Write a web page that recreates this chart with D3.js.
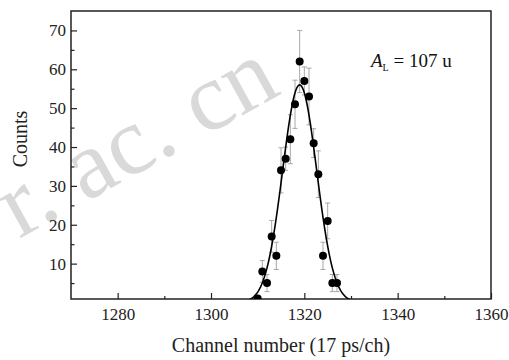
<!DOCTYPE html>
<html>
<head>
<meta charset="utf-8">
<script src="https://cdn.jsdelivr.net/npm/d3@7"></script>
<style>
  body { margin: 0; background: #fff; }
  text { font-family: "Liberation Serif", "Times New Roman", serif; }
</style>
</head>
<body>
<div class="chart"></div>
<script>
// data
const channels = [1310, 1311, 1312, 1313, 1314, 1315, 1316, 1317, 1318, 1319, 1320, 1321, 1322, 1323, 1324, 1325, 1326, 1327];
const counts   = [1, 8, 5, 17, 12, 34, 37, 42, 51, 62, 57, 53, 41, 33, 12, 21, 5, 5];
const errors   = [0, 2.8, 2.2, 4.1, 3.5, 5.8, 3, 6.3, 6.2, 8, 3.6, 7.3, 3.7, 6, 3.5, 4.6, 2.2, 2.2];

// gaussian fit parameters
const fitAmp = 56;
const fitCenter = 1319;
const fitSigma = 3.65;

const xMajor = [1280, 1300, 1320, 1340, 1360];
const xMinor = [1290, 1310, 1330, 1350];
const yMajor = [10, 20, 30, 40, 50, 60, 70];
const yMinor = [5, 15, 25, 35, 45, 55, 65];

const data = channels.map((c, i) => ({ch: c, n: counts[i], err: errors[i]}));

// margins, width and height
const margin = {top: 11, right: 18, bottom: 61, left: 71};
const width = 509 - margin.left - margin.right;
const height = 360 - margin.top - margin.bottom;

const root = d3.select(".chart")
    .append("svg")
    .attr("width", 509)
    .attr("height", 360);

// watermark behind the plot
root.append("text")
    .text("r. ac. cn")
    .attr("transform", "translate(151,166) rotate(-29)")
    .attr("text-anchor", "middle")
    .attr("font-size", 97)
    .attr("fill", "#d9d9d9");

const svg = root.append("g")
    .attr("transform", `translate(${margin.left},${margin.top})`);

// scales
const xScale = d3.scaleLinear().domain([1270, 1360]).range([0, width]);
const yScale = d3.scaleLinear().domain([0.9, 75]).range([height, 0]);

svg.append("clipPath")
    .attr("id", "clip")
    .append("rect")
    .attr("width", width)
    .attr("height", height);

// axes, ticks inside
const xAxis = d3.axisBottom(xScale).tickValues(xMajor).tickSize(-6).tickPadding(9).tickFormat(d3.format("d"));
const xAxisMinor = d3.axisBottom(xScale).tickValues(xMinor).tickSize(-3).tickFormat("");
const yAxis = d3.axisLeft(yScale).tickValues(yMajor).tickSize(-6).tickPadding(5);
const yAxisMinor = d3.axisLeft(yScale).tickValues(yMinor).tickSize(-3.5).tickFormat("");

function styleAxis(g) {
  g.select(".domain").remove();
  g.selectAll(".tick line").attr("stroke", "#222").attr("stroke-width", 1.2);
  g.selectAll(".tick text")
    .attr("fill", "#222")
    .attr("font-size", 17)
    .attr("font-family", "Liberation Serif, serif");
}

svg.append("g").attr("transform", `translate(0,${height})`).call(xAxis).call(styleAxis);
svg.append("g").attr("transform", `translate(0,${height})`).call(xAxisMinor).call(styleAxis);
svg.append("g").call(yAxis).call(styleAxis);
svg.append("g").call(yAxisMinor).call(styleAxis);

// frame
svg.append("rect")
    .attr("width", width)
    .attr("height", height)
    .attr("fill", "none")
    .attr("stroke", "#222")
    .attr("stroke-width", 1.5);

const plot = svg.append("g").attr("clip-path", "url(#clip)");

// error bars
const eb = plot.append("g")
    .attr("stroke", "#a8a8a8")
    .attr("stroke-width", 1)
    .selectAll("g")
    .data(data.filter(d => d.err > 0))
    .enter()
    .append("g");

eb.append("line")
    .attr("x1", d => xScale(d.ch))
    .attr("x2", d => xScale(d.ch))
    .attr("y1", d => yScale(d.n - d.err))
    .attr("y2", d => yScale(d.n + d.err));

eb.append("line")
    .attr("x1", d => xScale(d.ch) - 2.5)
    .attr("x2", d => xScale(d.ch) + 2.5)
    .attr("y1", d => yScale(d.n + d.err))
    .attr("y2", d => yScale(d.n + d.err));

eb.append("line")
    .attr("x1", d => xScale(d.ch) - 2.5)
    .attr("x2", d => xScale(d.ch) + 2.5)
    .attr("y1", d => yScale(d.n - d.err))
    .attr("y2", d => yScale(d.n - d.err));

// gaussian fit line
const fitX = d3.range(1300, 1340.01, 0.2);
const line = d3.line()
    .x(d => xScale(d))
    .y(d => yScale(fitAmp * Math.exp(-Math.pow(d - fitCenter, 2) / (2 * fitSigma * fitSigma))));

plot.append("path")
    .datum(fitX)
    .attr("fill", "none")
    .attr("stroke", "#000")
    .attr("stroke-width", 1.6)
    .attr("d", line);

// data points
plot.selectAll("circle")
    .data(data)
    .enter()
    .append("circle")
    .attr("cx", d => xScale(d.ch))
    .attr("cy", d => yScale(d.n))
    .attr("r", 4)
    .attr("fill", "#000");

// annotation
const ann = svg.append("text")
    .attr("x", 300)
    .attr("y", 56)
    .attr("font-size", 19)
    .attr("fill", "#111");
ann.append("tspan").text("A").attr("font-style", "italic");
ann.append("tspan").text("L").attr("font-size", 10).attr("dy", 4);
ann.append("tspan").text(" = 107 u").attr("dy", -4);

// axis titles
root.append("text")
    .text("Channel number (17 ps/ch)")
    .attr("x", margin.left + width / 2)
    .attr("y", 352)
    .attr("text-anchor", "middle")
    .attr("font-size", 20)
    .attr("fill", "#222");

root.append("text")
    .text("Counts")
    .attr("transform", "translate(27,139) rotate(-90)")
    .attr("text-anchor", "middle")
    .attr("font-size", 20)
    .attr("fill", "#222");
</script>
</body>
</html>
